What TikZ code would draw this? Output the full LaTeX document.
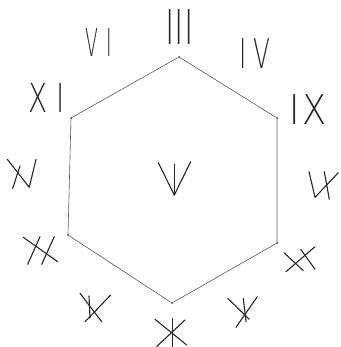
\documentclass[tikz,border=0pt]{standalone}
\usepackage{fontspec}
\newfontfamily\fino{DejaVu Sans ExtraLight}
\usepackage{tikz}
\usetikzlibrary{positioning}
\tikzset{
  lado/.style={draw=gray!70!black, line width=0.6pt},
  traco/.style={draw=black!85, line width=1.1pt, line cap=round},
  vertice/.style={circle, fill=black!80, inner sep=0pt, minimum size=2pt},
  numeral/.style={font=\fino\fontsize{#1}{#1}\selectfont, inner sep=0pt, text=black!85},
  numeral/.default=40,
}

\begin{document}
\begin{tikzpicture}[x=1pt, y=-1pt]
  \useasboundingbox (0,0) rectangle (340,347);
  % hexagono
  \node[vertice] (a) at (179,57) {};
  \node[vertice] (b) at (277,118) {};
  \node[vertice] (c) at (277,243) {};
  \node[vertice] (d) at (172,303) {};
  \node[vertice] (e) at (68,235) {};
  \node[vertice] (f) at (71,118) {};
  \draw[lado] (a) -- (b) -- (c) -- (d) -- (e) -- (f) -- (a);
  % numerais legiveis
  \node[numeral=48, xscale=0.66] (tres) at (179.4,27.5) {III};
  \node[numeral=38.4, xscale=0.49] (seis) at (98.9,43) {V\kern17pt I};
  \node[numeral=41, xscale=0.6] (quatro) at (255,53.5) {I\kern12pt V};
  \node[numeral=40, xscale=0.7] (onze) at (46.5,97.5) {X\kern13pt I};
  \node[numeral=41, xscale=0.86] (nove) at (307.6,110) {I\kern3pt X};
  % tracos a mao
  \foreach \xa/\ya/\xb/\yb in {158.3/162.7/174.3/195, 174.3/164/174.3/195, 190.7/161.7/174.3/195,
                     7.3/159.3/29.3/187.3, 20/166/12.7/188.3, 36/159.3/29.3/187.3,
                     309/171.7/315/197.3, 315/197.3/338.3/172.7, 324.3/171.7/329.3/199.3,
                     23.3/237.3/57.7/261.7, 40/236.7/27.7/264.3, 54.3/236.7/41.7/264.3,
                     284/252.7/303.3/270.7, 300.7/249.3/315/269.3, 315/246.7/286/271.7,
                     80/293.3/101.7/321.7, 89/296/90/318, 110.7/295/85/321.7,
                     172.3/318.3/172.3/346.5, 155/319.3/186.7/345, 185/320/156.7/346.5,
                     227.7/298.3/249.3/319.3, 243.3/298.3/246/321.7, 257.3/296.7/236/327.3}
    \draw[traco] (\xa,\ya) -- (\xb,\yb);
\end{tikzpicture}
\end{document}
